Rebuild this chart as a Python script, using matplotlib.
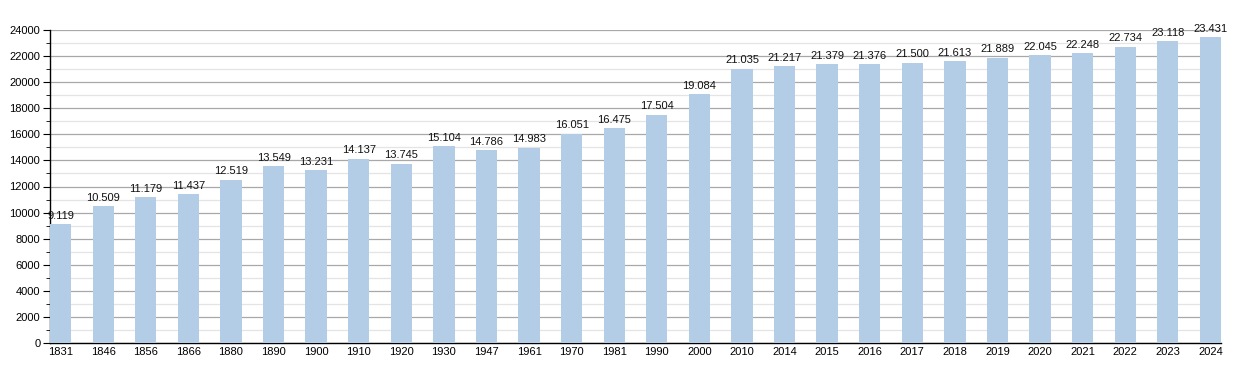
import matplotlib
matplotlib.use('Agg')
import matplotlib.pyplot as plt
from matplotlib.ticker import MultipleLocator
import numpy as np

plt.rcParams['font.family'] = ['Liberation Sans', 'DejaVu Sans']

years = ['1831', '1846', '1856', '1866', '1880', '1890', '1900', '1910', '1920',
         '1930', '1947', '1961', '1970', '1981', '1990', '2000', '2010', '2014',
         '2015', '2016', '2017', '2018', '2019', '2020', '2021', '2022', '2023',
         '2024']
population = [9119, 10509, 11179, 11437, 12519, 13549, 13231, 14137, 13745,
              15104, 14786, 14983, 16051, 16475, 17504, 19084, 21035, 21217,
              21379, 21376, 21500, 21613, 21889, 22045, 22248, 22734, 23118,
              23431]

fig = plt.figure(figsize=(12.5, 3.73), dpi=100)
ax = fig.add_axes([0.04, 0.0804, 0.9368, 0.8392])

x = np.arange(len(years))
w = 0.5
bars = ax.bar(x, population, width=w, color='#b3cde6', zorder=3)

for xi, v in zip(x, population):
    label = f'{v:,}'.replace(',', '.')
    ax.text(xi, v + 250, label, ha='center', va='bottom', fontsize=8,
            color='#111111', zorder=4)

ax.set_xlim(-w / 2, len(years) - 1 + w / 2)
ax.set_ylim(0, 24000)
ax.yaxis.set_major_locator(MultipleLocator(2000))
ax.yaxis.set_minor_locator(MultipleLocator(1000))
ax.grid(axis='y', which='major', color='#a8a8a8', linewidth=0.9, zorder=1)
ax.grid(axis='y', which='minor', color='#e4e4e4', linewidth=0.9, zorder=1)

ax.set_xticks(x)
ax.set_xticklabels(years, fontsize=8)
ax.tick_params(axis='x', length=0, pad=3)
ax.tick_params(axis='y', which='major', length=5, labelsize=8, pad=2)
ax.tick_params(axis='y', which='minor', length=3)

for s in ('top', 'right'):
    ax.spines[s].set_visible(False)
ax.spines['left'].set_linewidth(1.0)
ax.spines['bottom'].set_linewidth(1.0)

fig.savefig('out.png', dpi=100)
